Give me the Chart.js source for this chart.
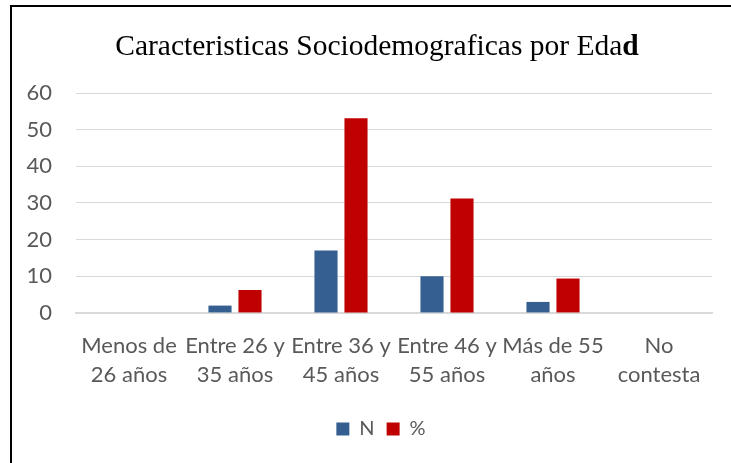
<!DOCTYPE html>
<html>
<head>
<meta charset="utf-8">
<script src="https://cdn.jsdelivr.net/npm/chart.js@4/dist/chart.umd.min.js"></script>
<style>
  body { margin: 0; background: #fff; }
  #wrap { position: relative; width: 731px; height: 463px; overflow: hidden; }
  #frame { position: absolute; left: 10px; top: 5px; width: 800px; height: 600px;
           border-top: 2px solid #000; border-left: 2px solid #000; pointer-events: none; }
  canvas { position: absolute; left: 0; top: 0; }
</style>
</head>
<body>
<div id="wrap">
  <canvas id="myChart" width="731" height="463"></canvas>
  <div id="frame"></div>
</div>
<script>
// data
const categories = [
  ['Menos de', '26 años'],
  ['Entre 26 y', '35 años'],
  ['Entre 36 y', '45 años'],
  ['Entre 46 y', '55 años'],
  ['Más de 55', 'años'],
  ['No', 'contesta']
];
const seriesN = [0, 2, 17, 10, 3, 0];
const seriesPct = [0, 6.25, 53.13, 31.25, 9.38, 0];
const yTicks = [0, 10, 20, 30, 40, 50, 60];
const titleMain = 'Caracteristicas Sociodemograficas por Eda';
const titleLast = 'd';

const labelFont = 'Lato';
const grey = '#595959';

// title with a bold last letter, like the original
const titlePlugin = {
  id: 'mixedTitle',
  afterLayout(chart) {
    // legend sits centred under the plot area, not the whole canvas
    chart.legend.left += 25;
    chart.legend.right += 25;
  },
  afterDraw(chart) {
    const ctx = chart.ctx;
    ctx.save();
    ctx.fillStyle = '#000';
    ctx.textBaseline = 'alphabetic';
    const normal = '29.5px "Liberation Serif"';
    const bold = 'bold 29.5px "Liberation Serif"';
    ctx.font = normal;
    const w1 = ctx.measureText(titleMain).width;
    ctx.font = bold;
    const w2 = ctx.measureText(titleLast).width;
    let x = 377 - (w1 + w2) / 2;
    ctx.font = normal;
    ctx.textAlign = 'left';
    ctx.fillText(titleMain, x, 55);
    ctx.font = bold;
    ctx.fillText(titleLast, x + w1, 55);
    ctx.restore();
  }
};

new Chart('myChart', {
  type: 'bar',
  data: {
    labels: categories,
    datasets: [
      { label: 'N', data: seriesN, backgroundColor: '#355F91' },
      { label: '%', data: seriesPct, backgroundColor: '#C00000' }
    ]
  },
  options: {
    responsive: false,
    animation: false,
    categoryPercentage: 0.566,
    barPercentage: 0.77,
    layout: { padding: { left: 0, right: 19, top: 93, bottom: 14 } },
    plugins: {
      title: { display: false },
      tooltip: { enabled: false },
      legend: {
        position: 'bottom',
        labels: {
          boxWidth: 13, boxHeight: 13, padding: 12,
          color: grey,
          font: { family: labelFont, size: 20 }
        }
      }
    },
    scales: {
      x: {
        grid: { display: false, drawTicks: false },
        border: { color: '#d9d9d9', width: 2 },
        ticks: {
          color: grey, padding: 18, maxRotation: 0, autoSkip: false,
          font: { family: labelFont, size: 22, lineHeight: 1.32 }
        }
      },
      y: {
        min: 0, max: 60,
        afterBuildTicks(axis) { axis.ticks = yTicks.map(v => ({ value: v })); },
        afterFit(axis) { axis.width = 76; },
        grid: { color: '#d9d9d9', drawTicks: false },
        border: { display: false },
        ticks: {
          color: grey, padding: 24,
          font: { family: labelFont, size: 22 }
        }
      }
    }
  },
  plugins: [titlePlugin]
});
</script>
</body>
</html>
